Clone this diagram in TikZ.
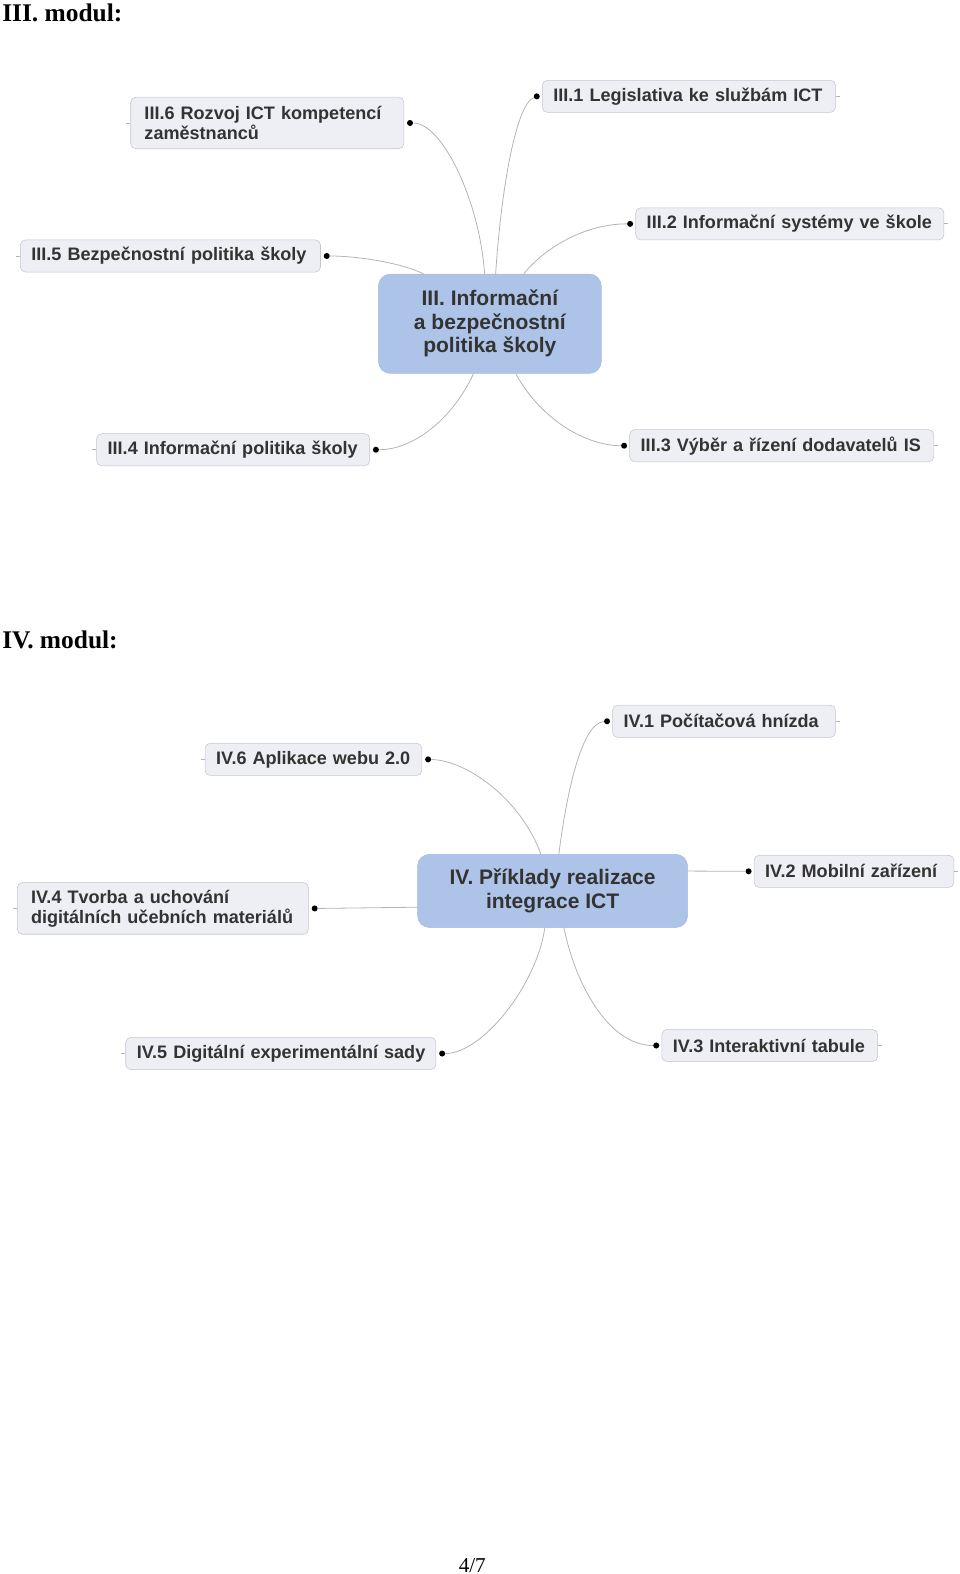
\documentclass[tikz,border=0pt]{standalone}
\usepackage{fontspec}
\setmainfont{Liberation Serif}
\newfontfamily\mapfont{Liberation Sans}
\usetikzlibrary{calc,positioning}
\definecolor{leaffill}{HTML}{EEEEF5}
\definecolor{leafline}{HTML}{C5C6CE}
\definecolor{hubfill}{HTML}{ADC3E7}
\definecolor{hubline}{HTML}{A5BCE2}
\definecolor{linkgray}{HTML}{B4B4B4}
\definecolor{txt}{HTML}{333333}

\begin{document}
\begin{tikzpicture}[x=0.75pt,y=-0.75pt,
  leaf/.style={draw=leafline,fill=leaffill,rounded corners=3.75pt,anchor=west,
    minimum height=24pt,inner xsep=8.25pt,inner ysep=2pt,align=left,text=txt,
    text width=#1,font=\mapfont\bfseries\fontsize{13.5}{15}\selectfont},
  hub/.style={draw=hubline,fill=hubfill,rounded corners=9pt,align=center,text=txt,
    font=\mapfont\bfseries\fontsize{15.7}{17.6}\selectfont},
  dot/.style={circle,fill=black,inner sep=0pt,minimum size=4.5pt},
  link/.style={draw=linkgray,line width=0.6pt},
  stub/.style={draw=linkgray,line width=0.6pt},
  title/.style={anchor=base west,inner sep=0pt,font=\bfseries\fontsize{19}{22}\selectfont}]
  \useasboundingbox (0,0) rectangle (956,1568);

  % III. modul
  \node[title] (m3) at (2,21) {III. modul:};
  \node[hub,minimum width=166.5pt,minimum height=74.25pt] (c3) at (488,322.5)
    {III. Informační\\a bezpečnostní\\politika školy};
  \node[leaf=202.5pt] (t31) at (540,96) {III.1 Legislativa ke službám ICT};
  \node[leaf=213.75pt] (t32) at (633,223) {\mbox{III.2 Informační systémy ve škole}};
  \node[leaf=210.75pt] (t33) at (627,444) {III.3 Výběr a řízení dodavatelů IS};
  \node[leaf=187.5pt] (t34) at (96,448) {\mbox{III.4 Informační politika školy}};
  \node[leaf=207.75pt] (t35) at (20,255) {III.5 Bezpečnostní politika školy};
  \node[leaf=187.5pt,minimum height=38.5pt] (t36) at (130,122.5) {\hspace{2pt}III.6 Rozvoj ICT kompetencí\\\hspace*{2pt}zaměstnanců};

  \node[dot,left=1.5pt of t31] (p31) {};
  \node[dot,left=1.5pt of t32] (p32) {};
  \node[dot,left=1.5pt of t33] (p33) {};
  \node[dot,right=2pt of t34] (p34) {};
  \node[dot,right=2pt of t35] (p35) {};
  \node[dot,right=2pt of t36] (p36) {};

  \draw[link] ($(c3.north west)+(117,0)$) .. controls +(6,-90) and +(-20,8) .. (p31);
  \draw[link] ($(c3.north west)+(145,0)$) .. controls +(23,-28) and +(-43,0) .. (p32);
  \draw[link] ($(c3.south west)+(137,0)$) .. controls +(26,47) and +(-37,0) .. (p33);
  \draw[link] ($(c3.south west)+(95,0)$) .. controls +(-22,47) and +(36,0) .. (p34);
  \draw[link] ($(c3.north west)+(45,0)$) .. controls +(-22,-11) and +(30,0) .. (p35);
  \draw[link] ($(c3.north west)+(106,0)$) .. controls +(-5,-73) and +(32,0) .. (p36);

  \draw[stub] (t31.east) -- +(4,0);
  \draw[stub] (t32.east) -- +(4,0);
  \draw[stub] (t33.east) -- +(4,0);
  \draw[stub] (t34.west) -- +(-4,0);
  \draw[stub] (t35.west) -- +(-4,0);
  \draw[stub] (t36.west) -- +(-4,0);

  % IV. modul
  \node[title] (m4) at (2,646) {IV. modul:};
  \node[hub,minimum width=201.75pt,minimum height=54.75pt] (c4) at (550.5,887.5)
    {IV. Příklady realizace\\integrace ICT};
  \node[leaf=150pt] (t41) at (610,718.5) {IV.1 Počítačová hnízda};
  \node[leaf=132.75pt] (t42) at (751,868) {IV.2 Mobilní zařízení};
  \node[leaf=144.75pt] (t43) at (659,1041.5) {IV.3 Interaktivní tabule};
  \node[leaf=201pt,minimum height=38.5pt] (t44) at (17,905) {\hspace{2pt}IV.4 Tvorba a uchování\\\hspace*{2pt}digitálních učebních materiálů};
  \node[leaf=215.25pt] (t45) at (125,1049.5) {\mbox{IV.5 Digitální experimentální sady}};
  \node[leaf=145.5pt] (t46) at (204,756.5) {\mbox{IV.6 Aplikace webu 2.0}};

  \node[dot,left=1.5pt of t41] (p41) {};
  \node[dot,left=1.5pt of t42] (p42) {};
  \node[dot,left=1.5pt of t43] (p43) {};
  \node[dot,right=2pt of t44] (p44) {};
  \node[dot,right=2pt of t45] (p45) {};
  \node[dot,right=2pt of t46] (p46) {};

  \draw[link] ($(c4.north west)+(141,0)$) .. controls +(8,-63) and +(-25,2) .. (p41);
  \draw[link] ($(c4.north east)+(0,17)$) -- (p42);
  \draw[link] ($(c4.south west)+(146,0)$) .. controls +(13,62) and +(-45,0) .. (p43);
  \draw[link] ($(c4.north west)+(0,53)$) -- (p44);
  \draw[link] ($(c4.south west)+(127,0)$) .. controls +(-8,57) and +(40,0) .. (p45);
  \draw[link] ($(c4.north west)+(123,0)$) .. controls +(-19,-53) and +(40,1) .. (p46);

  \draw[stub] (t41.east) -- +(4,0);
  \draw[stub] (t42.east) -- +(4,0);
  \draw[stub] (t43.east) -- +(4,0);
  \draw[stub] (t44.west) -- +(-4,0);
  \draw[stub] (t45.west) -- +(-4,0);
  \draw[stub] (t46.west) -- +(-4,0);

  \node[anchor=base,inner sep=0pt,font=\fontsize{15.8}{18}\selectfont] (pg) at (470.5,1566) {4/7};
\end{tikzpicture}
\end{document}
